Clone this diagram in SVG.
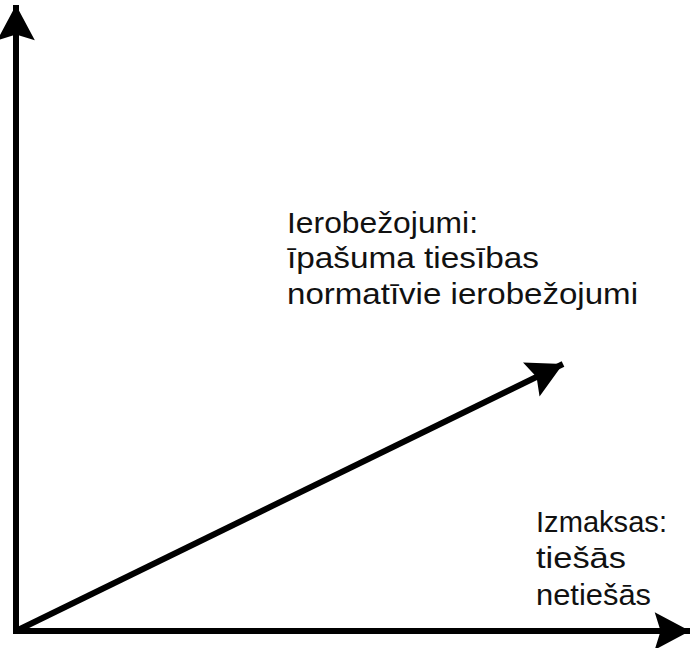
<svg xmlns="http://www.w3.org/2000/svg" width="692" height="648" viewBox="0 0 692 648">
<defs>
<style>
.ax{stroke:#000;stroke-width:6;fill:none}
.lbl{font-family:"Liberation Sans",Arial,sans-serif;font-size:30px;fill:#111}
</style>
<marker id="ah" markerUnits="userSpaceOnUse" markerWidth="40" markerHeight="40" viewBox="-30 -17 32 34" refX="0" refY="0" orient="auto">
<path d="M0,0 L-30,-16 L-25,0 L-30,16 Z" fill="#000"/>
</marker>
</defs>
<rect width="692" height="648" fill="#fff"/>
<g id="connectors">
<line class="ax" x1="16" y1="634" x2="16" y2="5" marker-end="url(#ah)"/>
<line class="ax" x1="13" y1="631" x2="690" y2="631" marker-end="url(#ah)"/>
<line class="ax" x1="16" y1="631" x2="563" y2="364" marker-end="url(#ah)"/>
</g>
<g id="label-ierobezojumi">
<text class="lbl" x="287" y="233" textLength="191" lengthAdjust="spacingAndGlyphs">Ierobežojumi:</text>
<text class="lbl" x="287" y="268" textLength="252" lengthAdjust="spacingAndGlyphs">īpašuma tiesības</text>
<text class="lbl" x="287" y="304" textLength="351" lengthAdjust="spacingAndGlyphs">normatīvie ierobežojumi</text>
</g>
<g id="label-izmaksas">
<text class="lbl" x="536" y="532" textLength="131" lengthAdjust="spacingAndGlyphs">Izmaksas:</text>
<text class="lbl" x="536" y="568" textLength="90" lengthAdjust="spacingAndGlyphs">tiešās</text>
<text class="lbl" x="536" y="605" textLength="115" lengthAdjust="spacingAndGlyphs">netiešās</text>
</g>
</svg>
